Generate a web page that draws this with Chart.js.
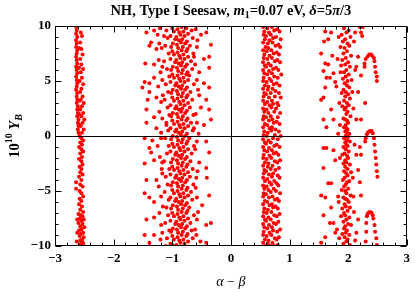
<!DOCTYPE html>
<html>
<head>
<meta charset="utf-8">
<script src="https://cdn.jsdelivr.net/npm/chart.js@4"></script>
<style>
  html, body { margin: 0; padding: 0; background: #fff; }
  #wrap { width: 415px; height: 292px; }
</style>
</head>
<body>
<div id="wrap"><canvas id="chart"></canvas></div>
<script>
// ========== DATA (alpha - beta, 10^10 Y_B) ==========
const xTicks = [-3, -2, -1, 0, 1, 2, 3];
const yTicks = [-10, -5, 0, 5, 10];

// narrow band near -2.6
const bandA = [
  [-2.64,9.9],[-2.63,9.6],[-2.64,9.3],[-2.62,9.0],[-2.64,8.7],[-2.63,8.4],[-2.64,8.1],[-2.62,7.8],[-2.63,7.5],[-2.64,7.2],
  [-2.63,6.9],[-2.62,6.6],[-2.64,6.3],[-2.63,6.0],[-2.62,5.7],[-2.64,5.4],[-2.63,5.1],[-2.62,4.8],[-2.63,4.5],[-2.64,4.2],
  [-2.62,3.9],[-2.63,3.6],[-2.62,3.3],[-2.63,3.0],[-2.61,2.7],[-2.62,2.4],[-2.61,2.1],[-2.62,1.8],[-2.60,1.5],[-2.61,1.2],
  [-2.60,0.9],[-2.61,0.6],[-2.60,0.3],
  [-2.56,9.4],[-2.54,9.1],[-2.57,8.5],[-2.55,7.9],[-2.53,7.4],[-2.57,7.0],[-2.55,6.5],[-2.52,6.1],[-2.56,5.8],[-2.54,5.3],
  [-2.58,5.0],[-2.52,4.7],[-2.55,4.3],[-2.57,4.0],[-2.53,3.6],[-2.56,3.3],[-2.51,3.0],[-2.54,2.7],[-2.57,2.4],[-2.52,2.1],
  [-2.55,1.8],[-2.50,1.5],[-2.53,1.2],[-2.56,0.9],[-2.51,0.6],[-2.54,0.3],[-2.58,1.0],[-2.59,2.0],[-2.58,3.2],[-2.59,6.2],[-2.59,8.0],
  [-2.58,0.0],[-2.55,-0.2],[-2.52,-0.4],[-2.57,-0.6],[-2.54,-0.8],[-2.59,-1.0],[-2.55,-1.2],[-2.52,-1.4],[-2.57,-1.6],[-2.54,-1.9],
  [-2.59,-2.1],[-2.55,-2.3],[-2.53,-2.6],[-2.58,-2.8],[-2.55,-3.0],[-2.57,-3.3],[-2.53,-3.5],[-2.59,-3.7],[-2.55,-4.0],[-2.64,-4.2],
  [-2.57,-4.4],[-2.53,-4.6],[-2.64,-4.8],[-2.58,-5.0],[-2.55,-5.2],[-2.52,-5.5],[-2.58,-5.7],[-2.55,-5.9],[-2.59,-6.2],[-2.54,-6.4],
  [-2.57,-6.7],[-2.52,-6.9],
  [-2.60,-7.1],[-2.56,-7.2],[-2.53,-7.3],[-2.58,-7.5],[-2.51,-7.6],[-2.55,-7.7],[-2.60,-7.9],[-2.53,-8.0],[-2.57,-8.2],[-2.50,-8.3],
  [-2.55,-8.5],[-2.59,-8.6],[-2.52,-8.8],[-2.56,-8.9],[-2.58,-9.1],[-2.51,-9.2],[-2.54,-9.4],[-2.57,-9.5],[-2.52,-9.7],[-2.55,-9.8],
  [-2.58,-9.9],[-2.51,-10.0],[-2.62,-7.6],[-2.62,-8.8],[-2.63,-9.6]
];

// wide band near -0.9 (core + scatter)
const bandB = [
  [-1.00,9.8],[-0.91,9.7],[-0.84,9.9],[-0.76,9.8],[-1.10,9.6],
  [-0.97,9.5],[-0.88,9.4],[-0.81,9.5],[-0.73,9.3],[-0.67,9.6],
  [-1.03,9.1],[-0.93,9.0],[-0.86,9.2],[-0.79,9.1],[-1.08,8.9],
  [-0.95,8.8],[-0.89,8.7],[-0.83,8.8],[-0.75,8.6],[-0.65,8.9],
  [-0.99,8.4],[-0.92,8.3],[-0.85,8.5],[-0.78,8.4],[-1.12,8.2],
  [-1.02,8.1],[-0.90,8.0],[-0.82,8.1],[-0.74,7.9],[-0.70,8.2],
  [-1.00,7.7],[-0.91,7.6],[-0.84,7.8],[-0.76,7.7],[-1.06,7.5],
  [-0.97,7.4],[-0.88,7.3],[-0.81,7.4],[-0.73,7.2],[-0.64,7.5],
  [-1.03,7.0],[-0.93,6.9],[-0.86,7.1],[-0.79,7.0],[-1.14,6.8],
  [-0.95,6.7],[-0.89,6.6],[-0.83,6.7],[-0.75,6.5],[-0.68,6.8],
  [-0.99,6.3],[-0.92,6.2],[-0.85,6.4],[-0.78,6.3],[-1.09,6.1],
  [-1.02,6.0],[-0.90,5.9],[-0.82,6.0],[-0.74,5.8],[-0.66,6.1],
  [-1.00,5.6],[-0.91,5.5],[-0.84,5.7],[-0.76,5.6],[-1.05,5.4],
  [-0.97,5.3],[-0.88,5.2],[-0.81,5.3],[-0.73,5.1],[-0.71,5.5],
  [-1.03,4.9],[-0.93,4.8],[-0.86,5.0],[-0.79,4.9],[-1.11,4.7],
  [-0.95,4.6],[-0.89,4.5],[-0.83,4.6],[-0.75,4.4],[-0.63,4.7],
  [-0.99,4.2],[-0.92,4.1],[-0.85,4.3],[-0.78,4.2],[-1.07,4.0],
  [-1.02,3.9],[-0.90,3.8],[-0.82,3.9],[-0.74,3.7],[-0.69,4.0],
  [-1.00,3.5],[-0.91,3.4],[-0.84,3.6],[-0.76,3.5],[-1.13,3.3],
  [-0.97,3.2],[-0.88,3.1],[-0.81,3.2],[-0.73,3.0],[-0.66,3.3],
  [-1.03,2.8],[-0.93,2.7],[-0.86,2.9],[-0.79,2.8],[-1.08,2.6],
  [-0.95,2.5],[-0.89,2.4],[-0.83,2.5],[-0.75,2.3],[-0.70,2.6],
  [-0.99,2.1],[-0.92,2.0],[-0.85,2.2],[-0.78,2.1],[-1.05,1.9],
  [-1.02,1.8],[-0.90,1.7],[-0.82,1.8],[-0.74,1.6],[-0.64,1.9],
  [-1.00,1.4],[-0.91,1.3],[-0.84,1.5],[-0.76,1.4],[-1.10,1.2],
  [-0.97,1.1],[-0.88,1.0],[-0.81,1.1],[-0.73,0.9],[-0.68,1.2],
  [-1.03,0.7],[-0.93,0.6],[-0.86,0.8],[-0.79,0.7],[-1.07,0.5],
  [-0.95,0.4],[-0.89,0.3],[-0.83,0.4],[-0.75,0.2],[-0.65,0.5],
  [-0.99,0.0],[-0.92,-0.1],[-0.85,0.1],[-0.78,0.0],[-1.12,-0.2],
  [-1.02,-0.3],[-0.90,-0.4],[-0.82,-0.3],[-0.74,-0.5],[-0.71,-0.2],
  [-1.00,-0.7],[-0.91,-0.8],[-0.84,-0.6],[-0.76,-0.7],[-1.06,-0.9],
  [-0.97,-1.0],[-0.88,-1.1],[-0.81,-1.0],[-0.73,-1.2],[-0.63,-0.9],
  [-1.03,-1.4],[-0.93,-1.5],[-0.86,-1.3],[-0.79,-1.4],[-1.09,-1.6],
  [-0.95,-1.7],[-0.89,-1.8],[-0.83,-1.7],[-0.75,-1.9],[-0.67,-1.6],
  [-0.99,-2.1],[-0.92,-2.2],[-0.85,-2.0],[-0.78,-2.1],[-1.14,-2.3],
  [-1.02,-2.4],[-0.90,-2.5],[-0.82,-2.4],[-0.74,-2.6],[-0.69,-2.3],
  [-1.00,-2.8],[-0.91,-2.9],[-0.84,-2.7],[-0.76,-2.8],[-1.05,-3.0],
  [-0.97,-3.1],[-0.88,-3.2],[-0.81,-3.1],[-0.73,-3.3],[-0.65,-3.0],
  [-1.03,-3.5],[-0.93,-3.6],[-0.86,-3.4],[-0.79,-3.5],[-1.11,-3.7],
  [-0.95,-3.8],[-0.89,-3.9],[-0.83,-3.8],[-0.75,-4.0],[-0.70,-3.7],
  [-0.99,-4.2],[-0.92,-4.3],[-0.85,-4.1],[-0.78,-4.2],[-1.08,-4.4],
  [-1.02,-4.5],[-0.90,-4.6],[-0.82,-4.5],[-0.74,-4.7],[-0.64,-4.4],
  [-1.00,-4.9],[-0.91,-5.0],[-0.84,-4.8],[-0.76,-4.9],[-1.13,-5.1],
  [-0.97,-5.2],[-0.88,-5.3],[-0.81,-5.2],[-0.73,-5.4],[-0.68,-5.1],
  [-1.03,-5.6],[-0.93,-5.7],[-0.86,-5.5],[-0.79,-5.6],[-1.06,-5.8],
  [-0.95,-5.9],[-0.89,-6.0],[-0.83,-5.9],[-0.75,-6.1],[-0.66,-5.8],
  [-0.99,-6.3],[-0.92,-6.4],[-0.85,-6.2],[-0.78,-6.3],[-1.10,-6.5],
  [-1.02,-6.6],[-0.90,-6.7],[-0.82,-6.6],[-0.74,-6.8],[-0.71,-6.5],
  [-1.00,-7.0],[-0.91,-7.1],[-0.84,-6.9],[-0.76,-7.0],[-1.07,-7.2],
  [-0.97,-7.3],[-0.88,-7.4],[-0.81,-7.3],[-0.73,-7.5],[-0.63,-7.2],
  [-1.03,-7.7],[-0.93,-7.8],[-0.86,-7.6],[-0.79,-7.7],[-1.12,-7.9],
  [-0.95,-8.0],[-0.89,-8.1],[-0.83,-8.0],[-0.75,-8.2],[-0.69,-7.9],
  [-0.99,-8.4],[-0.92,-8.5],[-0.85,-8.3],[-0.78,-8.4],[-1.05,-8.6],
  [-1.02,-8.7],[-0.90,-8.8],[-0.82,-8.7],[-0.74,-8.9],[-0.67,-8.6],
  [-1.00,-9.1],[-0.91,-9.2],[-0.84,-9.0],[-0.76,-9.1],[-1.09,-9.3],
  [-0.97,-9.4],[-0.88,-9.5],[-0.81,-9.4],[-0.73,-9.6],[-0.65,-9.3],
  [-1.03,-9.8],[-0.93,-9.9],[-0.86,-9.7],[-0.79,-9.8],[-1.11,-10.0],
  // scatter
  [-1.44,9.4],[-1.31,9.6],[-1.25,9.2],[-1.14,9.1],[-1.36,8.5],[-1.22,8.4],[-1.39,8.2],[-1.27,7.9],[-0.51,9.2],[-0.42,9.4],
  [-0.34,8.3],[-0.58,8.1],[-0.37,7.2],[-0.46,7.0],[-0.63,7.2],[-1.46,6.6],[-1.31,6.5],[-1.17,6.3],[-0.37,6.2],[-0.54,5.8],
  [-1.47,4.9],[-1.39,4.8],[-1.31,5.3],[-1.17,5.1],[-0.58,5.1],[-0.46,4.8],[-0.37,4.4],[-1.51,4.4],[-1.39,4.0],[-1.27,3.5],
  [-1.42,3.3],[-1.19,3.1],[-0.54,3.7],[-0.42,3.3],[-0.51,2.6],[-0.37,2.4],[-1.44,2.4],[-1.31,1.7],[-1.17,1.6],[-1.44,1.2],
  [-1.27,0.7],[-0.58,1.2],[-0.46,1.0],[-0.34,1.5],[-1.10,1.0],[-0.63,0.7],
  [-1.47,-0.2],[-1.34,-0.4],[-1.19,-0.2],[-0.58,-0.5],[-0.42,-0.5],[-0.37,-1.5],[-1.39,-1.1],[-1.36,-1.5],[-1.47,-2.5],[-1.31,-2.2],
  [-1.17,-2.4],[-0.54,-2.4],[-0.42,-2.9],[-1.44,-4.0],[-1.27,-4.0],[-1.17,-3.4],[-0.59,-3.8],[-0.41,-3.8],[-1.47,-5.2],[-1.39,-5.6],
  [-1.31,-6.0],[-1.19,-5.5],[-0.58,-5.6],[-0.37,-5.4],[-0.49,-6.3],[-1.44,-7.6],[-1.31,-7.4],[-1.19,-8.1],[-0.58,-7.6],[-0.42,-8.1],
  [-0.34,-7.9],[-1.47,-9.0],[-1.31,-9.0],[-1.17,-8.8],[-0.59,-9.0],[-0.42,-9.7],[-1.39,-9.7],[-1.00,-9.9],
  [-1.21,9.8],[-1.18,8.0],[-1.23,6.9],[-1.20,5.8],[-1.24,4.5],[-1.16,3.7],[-1.22,2.2],[-1.19,0.3],[-1.25,-0.9],[-1.21,-1.9],
  [-1.18,-3.0],[-1.23,-4.6],[-1.16,-6.4],[-1.22,-7.0],[-1.20,-9.4],[-0.60,9.7],[-0.57,8.7],[-0.61,6.5],[-0.56,4.2],[-0.60,2.0],
  [-0.55,0.2],[-0.61,-1.2],[-0.57,-3.2],[-0.60,-4.7],[-0.56,-6.9],[-0.61,-8.5],[-0.52,-9.6]
];

// dense band near 0.7
const bandC = [
  [0.55,9.9],[0.62,9.8],[0.70,9.9],[0.79,9.7],[0.57,9.5],[0.65,9.4],[0.74,9.6],[0.83,9.5],
  [0.56,9.2],[0.60,9.1],[0.68,9.2],[0.77,9.0],[0.58,8.8],[0.66,8.7],[0.72,8.9],[0.85,8.8],
  [0.55,8.5],[0.63,8.4],[0.71,8.5],[0.81,8.3],[0.59,8.1],[0.64,8.0],[0.76,8.2],[0.84,8.1],
  [0.55,7.8],[0.61,7.7],[0.69,7.8],[0.78,7.6],[0.57,7.4],[0.66,7.3],[0.73,7.5],[0.82,7.4],
  [0.56,7.1],[0.62,7.0],[0.70,7.1],[0.79,6.9],[0.55,6.7],[0.64,6.6],[0.75,6.8],[0.84,6.7],
  [0.58,6.4],[0.60,6.3],[0.68,6.4],[0.77,6.2],[0.55,6.0],[0.65,5.9],[0.72,6.1],[0.81,6.0],
  [0.57,5.7],[0.62,5.6],[0.70,5.7],[0.86,5.6],[0.56,5.3],[0.66,5.2],[0.74,5.4],[0.80,5.3],
  [0.55,5.0],[0.61,4.9],[0.69,5.0],[0.78,4.8],[0.58,4.6],[0.64,4.5],[0.73,4.7],[0.83,4.6],
  [0.55,4.3],[0.63,4.2],[0.71,4.3],[0.76,4.1],[0.57,3.9],[0.60,3.8],[0.68,3.9],[0.82,3.9],
  [0.56,3.6],[0.65,3.5],[0.75,3.6],[0.85,3.5],[0.55,3.2],[0.62,3.1],[0.70,3.2],[0.79,3.0],
  [0.58,2.9],[0.66,2.8],[0.72,2.9],[0.81,2.8],[0.55,2.5],[0.61,2.4],[0.69,2.6],[0.77,2.5],
  [0.57,2.2],[0.64,2.1],[0.74,2.2],[0.84,2.1],[0.56,1.8],[0.60,1.7],[0.68,1.8],[0.80,1.7],
  [0.55,1.5],[0.65,1.4],[0.71,1.5],[0.78,1.3],[0.58,1.1],[0.62,1.0],[0.73,1.2],[0.83,1.1],
  [0.55,0.8],[0.66,0.7],[0.70,0.8],[0.76,0.6],[0.57,0.4],[0.63,0.3],[0.69,0.5],[0.82,0.4],
  [0.56,0.1],[0.61,0.0],[0.75,0.1],[0.85,0.0],[0.55,-0.3],[0.64,-0.4],[0.72,-0.2],[0.80,-0.3],
  [0.58,-0.6],[0.60,-0.7],[0.68,-0.6],[0.78,-0.8],[0.55,-1.0],[0.65,-1.1],[0.74,-0.9],[0.83,-1.0],
  [0.57,-1.3],[0.62,-1.4],[0.70,-1.3],[0.77,-1.5],[0.56,-1.7],[0.66,-1.8],[0.73,-1.6],[0.81,-1.7],
  [0.55,-2.0],[0.61,-2.1],[0.69,-2.0],[0.84,-2.2],[0.58,-2.4],[0.64,-2.5],[0.75,-2.3],[0.79,-2.4],
  [0.55,-2.7],[0.63,-2.8],[0.71,-2.7],[0.82,-2.9],[0.57,-3.1],[0.60,-3.2],[0.68,-3.0],[0.76,-3.1],
  [0.56,-3.4],[0.65,-3.5],[0.72,-3.4],[0.80,-3.6],[0.55,-3.8],[0.62,-3.9],[0.70,-3.7],[0.83,-3.8],
  [0.58,-4.1],[0.66,-4.2],[0.74,-4.1],[0.78,-4.3],[0.55,-4.5],[0.61,-4.6],[0.69,-4.4],[0.81,-4.5],
  [0.57,-4.8],[0.64,-4.9],[0.73,-4.8],[0.77,-5.0],[0.56,-5.2],[0.60,-5.3],[0.68,-5.1],[0.84,-5.2],
  [0.55,-5.5],[0.65,-5.6],[0.71,-5.5],[0.79,-5.7],[0.58,-5.9],[0.62,-6.0],[0.75,-5.8],[0.82,-5.9],
  [0.55,-6.2],[0.66,-6.3],[0.70,-6.2],[0.76,-6.4],[0.57,-6.6],[0.63,-6.7],[0.72,-6.5],[0.80,-6.6],
  [0.56,-6.9],[0.61,-7.0],[0.69,-6.9],[0.83,-7.1],[0.55,-7.3],[0.64,-7.4],[0.74,-7.2],[0.78,-7.3],
  [0.58,-7.6],[0.60,-7.7],[0.68,-7.6],[0.81,-7.8],[0.55,-8.0],[0.65,-8.1],[0.73,-7.9],[0.77,-8.0],
  [0.57,-8.3],[0.62,-8.4],[0.70,-8.3],[0.84,-8.5],[0.56,-8.7],[0.66,-8.8],[0.72,-8.6],[0.79,-8.7],
  [0.55,-9.0],[0.61,-9.1],[0.69,-9.0],[0.82,-9.2],[0.58,-9.4],[0.64,-9.5],[0.75,-9.3],[0.78,-9.4],
  [0.55,-9.7],[0.63,-9.8],[0.71,-9.7],[0.80,-9.9],[0.57,-10.0],[0.67,-10.0],[0.74,-10.0]
];

// band near 2 (core + scatter)
const bandD = [
  [1.93,9.8],[2.01,9.6],[1.97,9.4],[1.89,9.2],[2.04,9.0],[1.95,8.8],[1.91,8.6],[1.99,8.4],
  [2.02,8.2],[1.94,8.0],[1.87,8.1],[1.98,7.7],[1.92,7.5],[2.05,7.3],[1.96,7.1],[1.90,6.9],[2.00,6.7],
  [1.95,6.5],[2.03,6.3],[1.88,6.4],[1.97,6.0],[1.93,5.8],[2.01,5.6],[1.96,5.4],
  [1.91,5.2],[1.99,5.0],[2.06,5.1],[1.94,4.8],[1.98,4.6],[2.02,4.4],[1.92,4.2],
  [1.96,4.0],[2.00,3.8],[1.89,3.9],[1.95,3.6],[2.03,3.4],[1.93,3.2],[1.98,3.0],
  [2.01,2.8],[1.96,2.6],[1.90,2.7],[1.94,2.4],[1.99,2.2],[1.97,2.0],[2.04,1.8],
  [1.92,1.6],[1.98,1.4],[1.95,1.5],[2.00,1.2],[1.96,1.0],[1.93,0.8],[1.99,0.6],[1.97,0.7],
  [1.95,0.4],[2.02,0.2],[1.98,0.3],[1.96,0.0],[1.93,-0.2],[2.00,-0.1],
  [1.98,-0.4],[1.95,-0.6],[2.03,-0.5],[1.97,-0.8],[1.92,-1.0],[1.99,-0.9],
  [1.96,-1.2],[2.01,-1.4],[1.94,-1.6],[1.98,-1.8],[1.90,-1.7],[2.00,-2.0],[1.95,-2.2],
  [1.97,-2.4],[2.03,-2.6],[1.92,-2.5],[1.95,-2.8],[1.99,-3.0],[1.93,-3.2],[1.97,-3.4],[2.05,-3.3],
  [1.99,-3.6],[1.94,-3.8],[1.91,-4.0],[1.98,-4.2],[2.02,-4.1],[1.96,-4.4],[1.93,-4.6],
  [2.00,-4.8],[1.95,-5.0],[1.89,-4.9],[1.97,-5.2],[2.04,-5.4],[1.92,-5.6],[1.98,-5.8],[1.95,-5.7],
  [2.01,-6.0],[1.94,-6.2],[1.96,-6.4],[1.90,-6.6],[2.03,-6.5],[1.99,-6.8],[1.93,-7.0],
  [1.95,-7.2],[2.02,-7.4],[1.88,-7.3],[1.97,-7.6],[1.92,-7.8],[2.00,-8.0],[1.95,-8.2],[2.05,-8.1],
  [1.93,-8.4],[1.98,-8.6],[1.96,-8.8],[2.02,-9.0],[1.90,-8.9],[1.94,-9.2],[1.99,-9.4],
  [1.97,-9.6],[1.92,-9.8],[2.03,-9.9],
  [1.84,9.0],[2.10,8.6],[1.82,7.0],[2.12,6.0],[1.85,3.0],[2.09,2.5],[1.83,0.2],[2.11,-0.8],[1.86,-2.0],[2.08,-3.8],
  [1.84,-6.0],[2.10,-6.9],[1.81,-8.5],[2.12,-9.5],[1.87,5.8],[2.07,4.0],[1.86,1.0],[2.09,-5.5],[1.85,-9.3],
  [1.61,9.5],[1.71,9.4],[1.59,8.6],[1.66,8.8],[1.54,7.5],[1.73,7.3],[1.61,6.6],[1.66,6.5],[1.58,5.9],[1.63,5.3],
  [1.69,5.3],[1.75,5.7],[1.78,4.9],[1.80,4.5],[1.61,4.4],[1.54,3.3],[1.58,3.5],[1.71,2.4],[1.58,1.5],[1.63,0.8],
  [1.75,1.5],[2.22,5.5],[2.29,3.0],[2.22,1.5],[2.17,4.0],[2.14,1.5],[2.25,9.9],[2.12,9.4],[2.17,7.2],[2.14,6.3],
  [1.58,-1.1],[1.63,-1.1],[1.75,-1.3],[1.78,-2.2],[1.58,-2.9],[1.66,-4.3],[1.71,-4.3],[1.54,-5.4],[1.61,-5.6],[1.71,-6.5],
  [1.58,-7.2],[1.69,-7.9],[1.75,-7.9],[1.61,-9.2],[1.78,-8.8],[1.54,-9.7],[1.83,-5.5],[2.17,-3.1],[2.20,-4.2],[2.22,-5.4],
  [2.17,-7.6],[2.14,-8.8],[2.20,-1.0],[2.14,-1.7],[2.22,-1.7],[2.20,9.9],[2.22,9.4],[2.24,9.1]
];

// three small arcs near 2.4
const arcs = [
  [2.28,6.3],[2.28,6.6],[2.30,7.0],[2.33,7.2],[2.36,7.4],[2.39,7.4],[2.41,7.3],[2.44,7.1],[2.45,6.8],[2.46,6.3],
  [2.47,5.8],[2.49,5.4],[2.49,5.0],
  [2.29,-0.5],[2.30,-0.2],[2.32,0.15],[2.34,0.35],[2.37,0.45],[2.40,0.45],[2.42,0.25],[2.44,-0.2],[2.45,-0.8],
  [2.46,-1.4],[2.47,-2.0],[2.48,-2.6],[2.49,-3.2],[2.50,-3.7],
  [2.30,-9.6],[2.31,-8.7],[2.31,-7.9],[2.32,-7.3],[2.33,-7.1],[2.35,-6.97],[2.37,-6.9],[2.40,-6.97],[2.42,-7.2],
  [2.43,-7.5],[2.45,-8.1],[2.46,-8.7],[2.48,-9.3],[2.49,-9.9]
];

// ========== HELPERS ==========
const SERIF = '"Liberation Serif", "DejaVu Serif", serif';
const toPoints = arr => arr.map(p => ({ x: p[0], y: p[1] }));
const minusLabel = v => (v < 0 ? '\u2212' + Math.abs(v) : String(v));

function drawRich(ctx, parts, cx, baseline) {
    let w = 0;
    parts.forEach(p => { ctx.font = p[1]; w += ctx.measureText(p[0]).width; });
    let xx = cx - w / 2;
    parts.forEach(p => {
        ctx.font = p[1];
        ctx.fillText(p[0], xx, baseline + (p[2] || 0));
        xx += ctx.measureText(p[0]).width;
    });
}

// frame, inward ticks, zero lines, titles
const decor = {
    id: 'decor',
    afterDatasetsDraw(chart) {
        const { ctx, chartArea: a, scales: { x, y } } = chart;
        const L = Math.round(a.left) + 0.5, R = Math.round(a.right) - 0.5;
        const T = Math.round(a.top) + 0.5, B = Math.round(a.bottom) - 0.5;
        ctx.save();
        ctx.strokeStyle = '#000';
        ctx.lineWidth = 1;
        ctx.beginPath();
        const x0 = Math.round(x.getPixelForValue(0)) + 0.5;
        const y0 = Math.round(y.getPixelForValue(0)) + 0.5;
        ctx.moveTo(x0, T); ctx.lineTo(x0, B);
        ctx.moveTo(L, y0); ctx.lineTo(R, y0);
        ctx.rect(L, T, R - L, B - T);
        // x ticks every 0.2, major at integers
        for (let i = -15; i <= 15; i++) {
            const px = Math.round(x.getPixelForValue(i / 5)) + 0.5;
            const len = i % 5 === 0 ? 6 : 3;
            ctx.moveTo(px, B); ctx.lineTo(px, B - len);
            ctx.moveTo(px, T); ctx.lineTo(px, T + len);
        }
        // y ticks every 1, major at multiples of 5
        for (let v = -10; v <= 10; v++) {
            const py = Math.round(y.getPixelForValue(v)) + 0.5;
            const len = v % 5 === 0 ? 6 : 3;
            ctx.moveTo(L, py); ctx.lineTo(L + len, py);
            ctx.moveTo(R, py); ctx.lineTo(R - len, py);
        }
        ctx.stroke();

        ctx.fillStyle = '#000';
        ctx.textBaseline = 'alphabetic';
        ctx.textAlign = 'left';
        const b14 = 'bold 14.5px ' + SERIF, bi14 = 'italic bold 14.5px ' + SERIF, b10 = 'bold 10px ' + SERIF;
        drawRich(ctx, [
            ['NH, Type I Seesaw, ', b14], ['m', bi14], ['1', b10, 3], ['=0.07 eV, ', b14],
            ['\u03b4', bi14], ['=5', b14], ['\u03c0', bi14], ['/3', b14]
        ], (a.left + a.right) / 2, 15);

        drawRich(ctx, [
            ['\u03b1', 'italic 14px ' + SERIF], [' \u2212 ', '14px ' + SERIF], ['\u03b2', 'italic 14px ' + SERIF]
        ], (a.left + a.right) / 2, 286);

        ctx.translate(19, (a.top + a.bottom) / 2);
        ctx.rotate(-Math.PI / 2);
        drawRich(ctx, [
            ['10', b14], ['10', b10, -7], [' ', b14], ['Y', bi14], ['B', 'italic bold 10px ' + SERIF, 3]
        ], 0, 0);
        ctx.restore();
    }
};

// ========== CHART ==========
const dotStyle = { backgroundColor: '#ff0000', borderWidth: 0, pointRadius: 2, pointHoverRadius: 2 };

new Chart(document.getElementById('chart'), {
    type: 'scatter',
    data: {
        datasets: [
            { label: 'A', data: toPoints(bandA), ...dotStyle },
            { label: 'B', data: toPoints(bandB), ...dotStyle },
            { label: 'C', data: toPoints(bandC), ...dotStyle },
            { label: 'D', data: toPoints(bandD), ...dotStyle },
            { label: 'arcs', data: toPoints(arcs), ...dotStyle }
        ]
    },
    options: {
        responsive: true,
        maintainAspectRatio: false,
        animation: false,
        devicePixelRatio: 1,
        layout: { padding: { top: 26, right: 6, left: 0, bottom: 0 } },
        plugins: { legend: { display: false }, tooltip: { enabled: false }, title: { display: false } },
        scales: {
            x: {
                type: 'linear', min: -3, max: 3,
                afterBuildTicks: s => { s.ticks = xTicks.map(v => ({ value: v })); },
                afterFit: s => { s.height = 46; },
                grid: { display: false, drawTicks: false },
                border: { display: false },
                ticks: { callback: minusLabel, color: '#000', padding: 5, maxRotation: 0,
                         font: { family: SERIF, size: 13, weight: 'bold' } }
            },
            y: {
                type: 'linear', min: -10, max: 10,
                afterBuildTicks: s => { s.ticks = yTicks.map(v => ({ value: v })); },
                afterFit: s => { s.width = 55; },
                grid: { display: false, drawTicks: false },
                border: { display: false },
                ticks: { callback: minusLabel, color: '#000', padding: 4,
                         font: { family: SERIF, size: 13, weight: 'bold' } }
            }
        }
    },
    plugins: [decor]
});
</script>
</body>
</html>
